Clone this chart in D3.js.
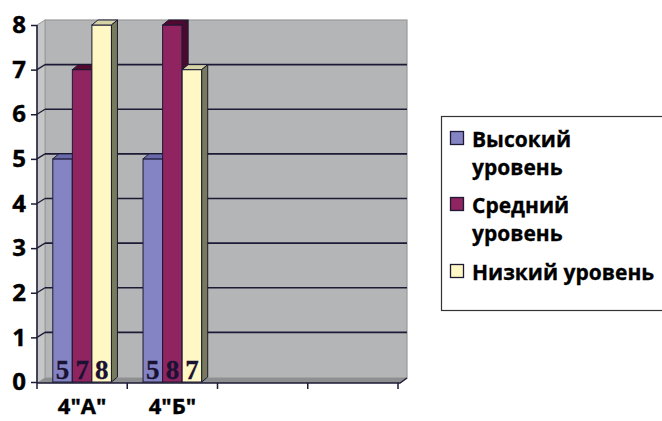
<!DOCTYPE html>
<html>
<head>
<meta charset="utf-8">
<script src="https://cdn.jsdelivr.net/npm/d3@7"></script>
<style>
  body { margin: 0; background: #fff; }
  svg { display: block; }
  text { font-family: "Open Sans", "Noto Sans", sans-serif; font-weight: bold; }
</style>
</head>
<body>
<svg width="662" height="421"></svg>
<script>
// data
const categories = ['4"А"', '4"Б"'];
const emptySlots = ['slot3', 'slot4'];
const seriesNames = ['Высокий уровень', 'Средний уровень', 'Низкий уровень'];
const highValues = [5, 5];
const midValues = [7, 8];
const lowValues = [8, 7];
const yTicks = [0, 1, 2, 3, 4, 5, 6, 7, 8];

const seriesValues = [highValues, midValues, lowValues];
const legendLines = [['Высокий', 'уровень'], ['Средний', 'уровень'], ['Низкий уровень']];

// colours: front, top, side
const colors = [
  { front: '#8484c4', top: '#6a6aaa', side: '#585890' },
  { front: '#8f2461', top: '#52092f', side: '#4a0a2e' },
  { front: '#fff8c4', top: '#d6d3a6', side: '#777a5c' }
];
const edge = '#1c1a34';

var svg = d3.select('svg');

var x0 = 37, x1 = 398, yBottom = 382, yTop = 25;
var depthX = 8, depthY = -5;   // wall offset
var barDX = 6, barDY = -5;     // bar depth

var x = d3.scaleBand()
  .domain(categories.concat(emptySlots))
  .range([x0, x1]);

var xs = d3.scaleBand()
  .domain(seriesNames)
  .range([x.bandwidth() * 0.175, x.bandwidth() * 0.825]);

var y = d3.scaleLinear()
  .domain([0, 8])
  .range([yBottom, yTop]);

// walls
svg.append('rect')
  .attr('x', x0 + depthX).attr('y', y(8) + depthY)
  .attr('width', x1 + 1 - x0).attr('height', y(0) - y(8) + 1)
  .attr('fill', '#b3b5b6')
  .attr('stroke', '#9a9a9a').attr('stroke-width', 1.2);

svg.append('polygon')
  .attr('points', [[x0, y(8)], [x0 + depthX, y(8) + depthY], [x0 + depthX, y(0) + depthY + 1], [x0, y(0) + 1]].join(' '))
  .attr('fill', '#c4c6c7')
  .attr('stroke', '#9a9a9a').attr('stroke-width', 1);

svg.append('polygon')
  .attr('points', [[x0, y(0) + 1], [x0 + depthX, y(0) + depthY + 1], [x1 + depthX + 1, y(0) + depthY + 1], [x1 + 1, y(0) + 1]].join(' '))
  .attr('fill', '#8e8f90');

// gridlines
var grid = svg.append('g');
yTicks.filter(d => d > 0 && d < 8).forEach(function(v) {
  grid.append('line')
    .attr('x1', x0 + depthX).attr('x2', x1 + depthX + 1)
    .attr('y1', y(v) + depthY).attr('y2', y(v) + depthY)
    .attr('stroke', edge).attr('stroke-width', 1.6);
  grid.append('line')
    .attr('x1', x0).attr('x2', x0 + depthX)
    .attr('y1', y(v)).attr('y2', y(v) + depthY)
    .attr('stroke', edge).attr('stroke-width', 1.2);
});

// bars
var bars = svg.append('g');
categories.forEach(function(cat, ci) {
  seriesNames.forEach(function(s, si) {
    var v = seriesValues[si][ci];
    var bx = x(cat) + xs(s), bw = xs.bandwidth();
    var by = y(v), b0 = y(0);
    var c = colors[si];
    bars.append('rect')
      .attr('x', bx).attr('y', by)
      .attr('width', bw).attr('height', b0 - by)
      .attr('fill', c.front).attr('stroke', edge).attr('stroke-width', 1);
    bars.append('polygon')
      .attr('points', [[bx, by], [bx + barDX, by + barDY], [bx + bw + barDX, by + barDY], [bx + bw, by]].join(' '))
      .attr('fill', c.top).attr('stroke', edge).attr('stroke-width', 1);
    bars.append('polygon')
      .attr('points', [[bx + bw, by], [bx + bw + barDX, by + barDY], [bx + bw + barDX, b0 + barDY], [bx + bw, b0]].join(' '))
      .attr('fill', c.side).attr('stroke', edge).attr('stroke-width', 1);
  });
});

// value labels
categories.forEach(function(cat, ci) {
  seriesNames.forEach(function(s, si) {
    svg.append('text')
      .attr('x', x(cat) + xs(s) + xs.bandwidth() / 2)
      .attr('y', 379)
      .attr('text-anchor', 'middle')
      .style('font-family', '"Liberation Serif", "DejaVu Serif", serif')
      .style('font-size', '27px')
      .attr('fill', '#1a1232')
      .attr('stroke', '#1a1232').attr('stroke-width', 0.3)
      .text(seriesValues[si][ci]);
  });
});

// y axis
var yAxis = svg.append('g')
  .attr('transform', 'translate(' + x0 + ',0)')
  .call(d3.axisLeft(y).tickValues(yTicks).tickSize(6).tickPadding(5));
yAxis.select('.domain').attr('stroke', edge).attr('stroke-width', 1.5)
  .attr('d', 'M0,' + y(8) + 'V' + (y(0) + 1));
yAxis.selectAll('.tick line').attr('stroke', edge).attr('stroke-width', 1.5);
yAxis.selectAll('.tick text')
  .style('font-size', '24px').attr('fill', '#000')
  .attr('stroke', '#000').attr('stroke-width', 0.4)
  .style('font-family', '"Open Sans", sans-serif').style('font-weight', 'bold');

// x axis
var xAxis = svg.append('g')
  .attr('transform', 'translate(0,' + (y(0) + 1) + ')');
xAxis.append('path')
  .attr('d', 'M' + x0 + ',0H' + (x1 + 2) + 'L' + (x1 + depthX + 1) + ',' + depthY)
  .attr('fill', 'none').attr('stroke', edge).attr('stroke-width', 1.5);
x.domain().concat(['end']).forEach(function(d) {
  var px = d === 'end' ? x1 : x(d);
  xAxis.append('line')
    .attr('x1', px).attr('x2', px).attr('y1', 0).attr('y2', 6)
    .attr('stroke', edge).attr('stroke-width', 1.5);
});
categories.forEach(function(cat) {
  xAxis.append('text')
    .attr('x', x(cat) + x.bandwidth() / 2)
    .attr('y', 31)
    .attr('text-anchor', 'middle')
    .style('font-size', '22px')
    .attr('fill', '#000')
    .attr('stroke', '#000').attr('stroke-width', 0.4)
    .text(cat);
});

// legend
var legend = svg.append('g');
legend.append('rect')
  .attr('x', 441.5).attr('y', 116.5)
  .attr('width', 240).attr('height', 194)
  .attr('fill', '#fff').attr('stroke', '#333').attr('stroke-width', 1.2);

var entryY = [147, 213, 280];
seriesNames.forEach(function(s, i) {
  legend.append('rect')
    .attr('x', 450.5).attr('y', entryY[i] - 15.5)
    .attr('width', 13).attr('height', 13)
    .attr('fill', colors[i].front).attr('stroke', edge).attr('stroke-width', 1.3);
  legendLines[i].forEach(function(line, li) {
    legend.append('text')
      .attr('x', 472)
      .attr('y', entryY[i] + li * 28)
      .style('font-size', '21px')
      .attr('fill', '#000')
      .attr('stroke', '#000').attr('stroke-width', 0.3)
      .text(line);
  });
});
</script>
</body>
</html>
